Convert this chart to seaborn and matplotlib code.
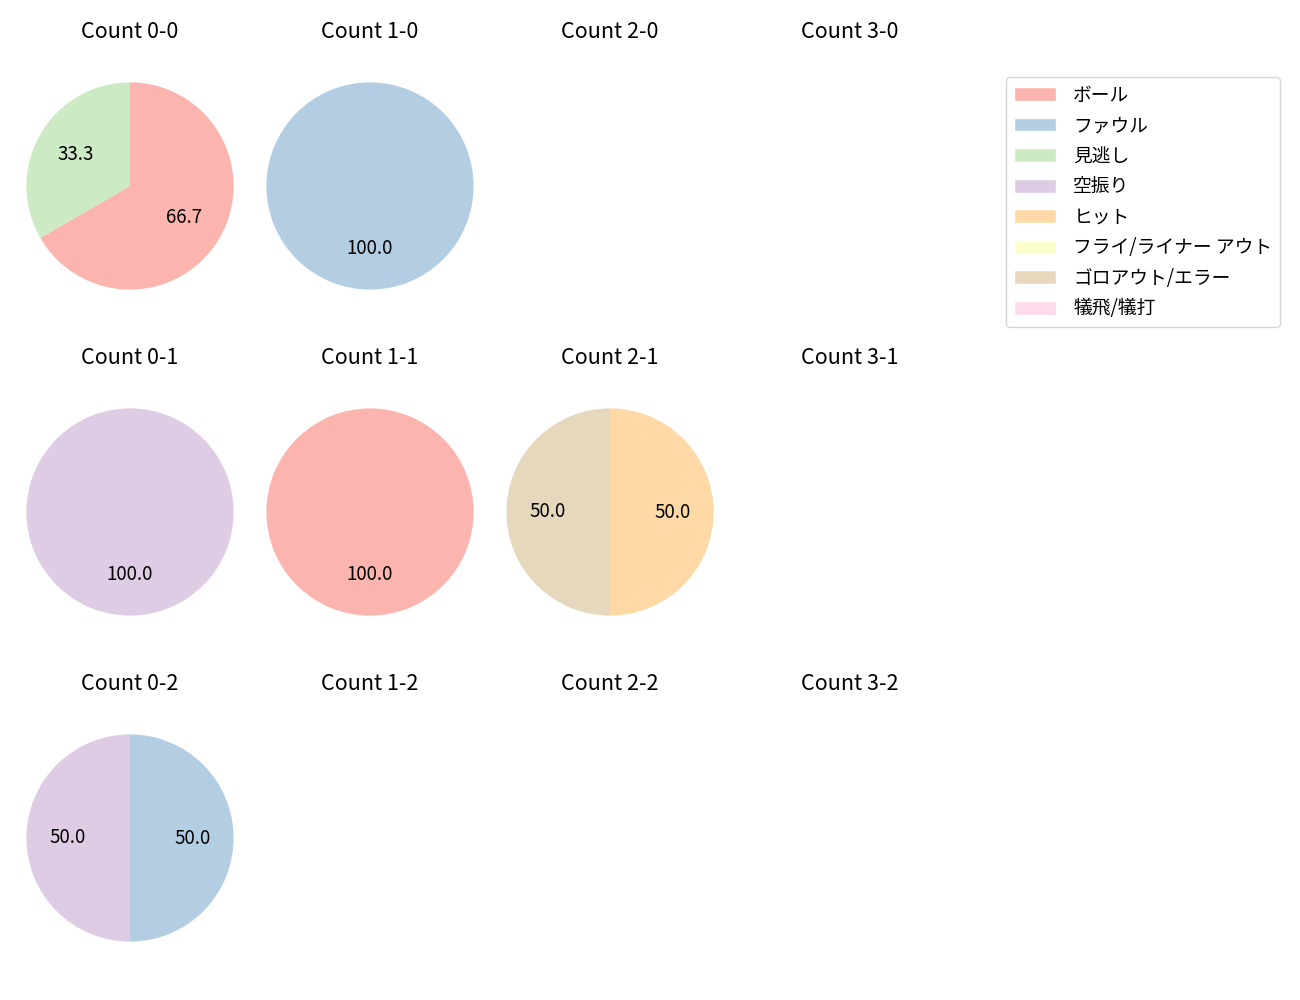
import matplotlib
matplotlib.use("Agg")
import matplotlib.pyplot as plt
import seaborn as sns
from matplotlib.patches import Patch

sns.set_theme(style="white")
plt.rcParams['font.family'] = ['Noto Sans CJK JP', 'DejaVu Sans']
plt.rcParams['text.color'] = 'black'

categories = ["ボール", "ファウル", "見逃し", "空振り", "ヒット",
              "フライ/ライナー アウト", "ゴロアウト/エラー", "犠飛/犠打"]
colors = sns.color_palette("Pastel1", 8)

counts = ["0-0", "1-0", "2-0", "3-0",
          "0-1", "1-1", "2-1", "3-1",
          "0-2", "1-2", "2-2", "3-2"]

# values per count, in category order
data = {
    "0-0": [2, 0, 1, 0, 0, 0, 0, 0],
    "1-0": [0, 1, 0, 0, 0, 0, 0, 0],
    "2-0": [0, 0, 0, 0, 0, 0, 0, 0],
    "3-0": [0, 0, 0, 0, 0, 0, 0, 0],
    "0-1": [0, 0, 0, 1, 0, 0, 0, 0],
    "1-1": [1, 0, 0, 0, 0, 0, 0, 0],
    "2-1": [0, 0, 0, 0, 1, 0, 1, 0],
    "3-1": [0, 0, 0, 0, 0, 0, 0, 0],
    "0-2": [0, 1, 0, 1, 0, 0, 0, 0],
    "1-2": [0, 0, 0, 0, 0, 0, 0, 0],
    "2-2": [0, 0, 0, 0, 0, 0, 0, 0],
    "3-2": [0, 0, 0, 0, 0, 0, 0, 0],
}

W, H = 1300, 1000
fig = plt.figure(figsize=(13, 10), dpi=100)

cx = [130, 370, 610, 850]
cy = [186, 512, 838]
size = 259  # px, square axes

for i, c in enumerate(counts):
    r, col = divmod(i, 4)
    x0 = (cx[col] - size / 2) / W
    y0 = 1 - (cy[r] + size / 2) / H
    ax = fig.add_axes([x0, y0, size / W, size / H])
    vals = data[c]
    v = [x for x in vals if x > 0]
    cl = [colors[k] for k, x in enumerate(vals) if x > 0]
    if v:
        ax.pie(v, colors=cl, autopct="%.1f", startangle=90, counterclock=False,
               wedgeprops={"linewidth": 0},
               textprops={"fontsize": 13.5, "color": "black"})
    else:
        ax.set_xlim(-1.25, 1.25)
        ax.set_ylim(-1.25, 1.25)
        ax.set_aspect("equal")
    ax.axis("off")
    ax.set_title(f"Count {c}", fontsize=15.5, pad=13.5, color="black")

handles = [Patch(facecolor=colors[k], label=categories[k]) for k in range(8)]
leg = fig.legend(handles=handles, loc="upper right", bbox_to_anchor=(0.9846, 0.923),
                 borderaxespad=0, fontsize=13.5, frameon=True, handlelength=2.24,
                 handleheight=0.75, borderpad=0.4, labelspacing=0.51,
                 handletextpad=0.95)
for t in leg.get_texts():
    t.set_color("black")

fig.savefig("out.png", dpi=100)
